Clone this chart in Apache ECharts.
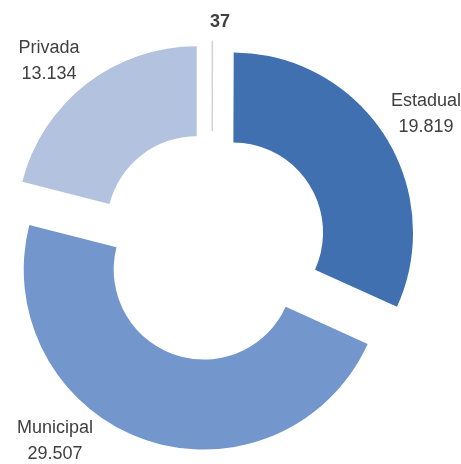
<!DOCTYPE html>
<html>
<head>
<meta charset="utf-8">
<script src="https://cdn.jsdelivr.net/npm/echarts@6/dist/echarts.min.js"></script>
<style>
  html, body { margin: 0; padding: 0; background: #fff; }
  #chart { width: 461px; height: 464px; }
</style>
</head>
<body>
<div id="chart"></div>
<script>
// categorias e valores (sentido horário a partir do topo)
var categories = ['', 'Estadual', 'Municipal', 'Privada']
var values = [37, 19819, 29507, 13134]
var colors = ['#d4d4d4', '#4170b1', '#7397cc', '#b2c2df']

// posição dos rótulos (centro), por fatia
var labelPos = [[220, 22], [426, 114], [55, 441], [49, 61]]

function fmt(v) {
  return String(v).replace(/\B(?=(\d{3})+(?!\d))/g, '.')
}

var chart = echarts.init(document.getElementById('chart'))

// fatias destacadas
var slices = categories.map(function(name, i) {
  return {
    name: name,
    value: values[i],
    selected: true,
    itemStyle: {
      color: colors[i],
      borderColor: i === 0 ? colors[i] : 'transparent',
      borderWidth: i === 0 ? 1 : 0
    }
  }
})

// mesma série, só para os rótulos
var labels = categories.map(function(name, i) {
  return {
    name: name,
    value: values[i],
    label: { fontWeight: i === 0 ? 'bold' : 'normal' }
  }
})

var option = {
  animation: false,
  series: [
    {
      type: 'pie',
      center: [212, 246],
      radius: [90, 180],
      startAngle: 90,
      clockwise: true,
      selectedMode: 'multiple',
      selectedOffset: 25,
      emphasis: { disabled: true },
      silent: true,
      label: { show: false },
      labelLine: { show: false },
      data: slices
    },
    {
      type: 'pie',
      center: [212, 246],
      radius: [90, 180],
      startAngle: 90,
      clockwise: true,
      silent: true,
      avoidLabelOverlap: false,
      emphasis: { disabled: true },
      itemStyle: { color: 'transparent' },
      data: labels,
      label: {
        show: true,
        position: 'outside',
        fontFamily: 'Liberation Sans',
        fontSize: 18,
        lineHeight: 26,
        color: '#404040',
        align: 'center',
        formatter: function(p) {
          return p.name ? p.name + '\n' + fmt(p.value) : fmt(p.value)
        }
      },
      labelLine: { show: false },
      labelLayout: function(p) {
        var pos = labelPos[p.dataIndex]
        return { x: pos[0], y: pos[1], align: 'center', verticalAlign: 'middle' }
      }
    }
  ]
}
chart.setOption(option, true)
</script>
</body>
</html>
